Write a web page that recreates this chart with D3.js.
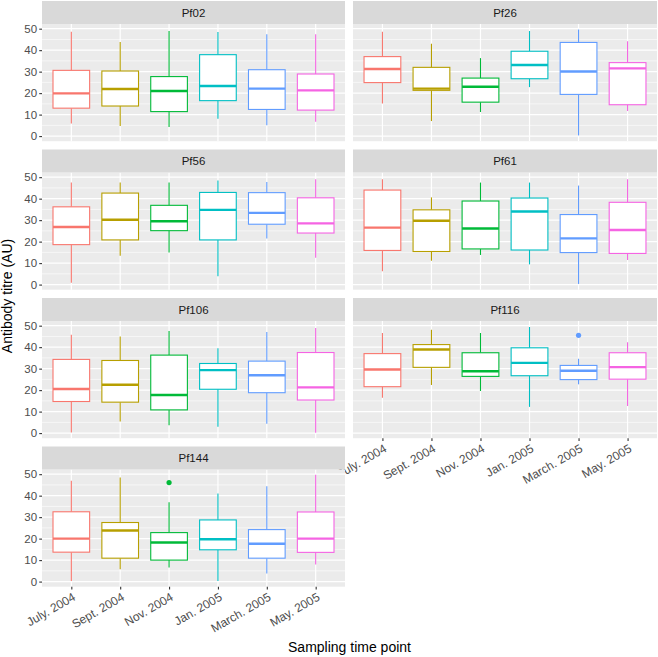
<!DOCTYPE html>
<html>
<head>
<meta charset="utf-8">
<script src="https://cdn.jsdelivr.net/npm/d3@7"></script>
<style>
  body { margin: 0; background: #fff; }
  svg { display: block; font-family: "Liberation Sans", Arial, sans-serif; }
</style>
</head>
<body>
<svg id="chart" width="658" height="657"></svg>
<script>
var times = ["July. 2004", "Sept. 2004", "Nov. 2004", "Jan. 2005", "March. 2005", "May. 2005"];
var antigens = ["Pf02", "Pf26", "Pf56", "Pf61", "Pf106", "Pf116", "Pf144"];
var colors = ["#F8766D", "#B79F00", "#00BA38", "#00BFC4", "#619CFF", "#F564E3"];
var yTicks = [0, 10, 20, 30, 40, 50];

// per time point: [lower whisker, Q1, median, Q3, upper whisker]
var pf02 = [[5.9, 13.0, 19.9, 30.6, 48.6], [4.7, 14.0, 21.9, 30.3, 43.8], [4.2, 11.4, 21.0, 27.7, 48.9],
            [8.1, 16.5, 23.3, 37.9, 48.4], [5.1, 12.4, 22.1, 30.9, 47.4], [6.7, 12.1, 21.3, 28.9, 47.4]];
var pf26 = [[15.2, 24.9, 31.2, 37.0, 48.6], [7.0, 21.3, 22.1, 32.0, 43.0], [11.2, 15.8, 23.0, 27.0, 36.3],
            [22.8, 26.7, 33.1, 39.5, 48.9], [0.3, 19.4, 30.1, 43.6, 49.6], [11.7, 14.6, 31.5, 34.2, 44.1]];
var pf56 = [[0.8, 18.6, 26.8, 36.2, 47.5], [13.4, 20.8, 30.2, 42.6, 47.5], [14.9, 25.1, 29.5, 36.9, 47.5],
            [3.9, 20.8, 34.8, 42.9, 48.4], [21.4, 28.1, 33.4, 42.8, 47.7], [12.5, 24.0, 28.5, 40.4, 49.0]];
var pf61 = [[6.2, 15.9, 26.5, 44.0, 49.0], [11.1, 15.4, 29.7, 34.8, 40.6], [13.8, 16.6, 26.1, 38.9, 47.5],
            [9.4, 16.1, 34.0, 40.3, 47.5], [0.3, 14.9, 21.5, 32.6, 46.1], [11.5, 14.5, 25.4, 38.3, 49.0]];
var pf106 = [[0.3, 14.7, 20.5, 34.3, 45.8], [5.4, 14.4, 22.5, 33.8, 45.0], [3.7, 10.8, 17.7, 36.3, 47.5],
             [2.9, 20.4, 29.3, 32.4, 39.5], [4.3, 18.8, 26.9, 33.5, 47.1], [0.1, 15.4, 21.3, 37.5, 48.9]];
var pf116 = [[16.5, 21.6, 29.6, 37.0, 46.6], [22.4, 30.6, 38.9, 41.2, 48.1], [19.6, 26.4, 28.8, 37.4, 46.6],
             [12.2, 26.7, 32.7, 39.7, 49.4], [22.7, 24.9, 29.0, 31.5, 34.6], [12.6, 25.1, 30.7, 37.4, 42.3]];
var pf144 = [[0.3, 13.7, 20.0, 32.5, 46.9], [5.8, 10.9, 23.8, 27.5, 48.4], [6.5, 10.0, 18.2, 22.8, 36.9],
             [0.3, 14.8, 19.7, 28.7, 41.0], [3.8, 10.9, 17.6, 24.2, 44.4], [8.0, 13.6, 20.0, 32.4, 49.7]];
// [antigen, time index, value]
var outliers = [["Pf116", 4, 45.5], ["Pf144", 2, 46.1]];

var stats = { Pf02: pf02, Pf26: pf26, Pf56: pf56, Pf61: pf61, Pf106: pf106, Pf116: pf116, Pf144: pf144 };

var svg = d3.select("#chart");
svg.append("rect").attr("width", 658).attr("height", 657).attr("fill", "#fff");

var cols = [[42, 345], [353, 657]];
var stripH = 23, panelH = 117.2, rowStep = 148.5, firstTop = 1;

// shared y domain with ggplot's 5% expansion
var allVals = [];
antigens.forEach(function(a) { stats[a].forEach(function(s) { allVals = allVals.concat(s); }); });
outliers.forEach(function(o) { allVals.push(o[2]); });
var lo = d3.min(allVals), hi = d3.max(allVals), pad = (hi - lo) * 0.05;

antigens.forEach(function(name, i) {
    var col = i % 2, row = Math.floor(i / 2);
    var x0 = cols[col][0], x1 = cols[col][1];
    var stripTop = firstTop + row * rowStep;
    var top = stripTop + stripH, bottom = top + panelH;

    var x = d3.scalePoint().domain(times).range([x0, x1]).padding(0.6);
    var y = d3.scaleLinear().domain([lo - pad, hi + pad]).range([bottom, top]);

    var g = svg.append("g");
    g.append("rect").attr("x", x0).attr("y", top).attr("width", x1 - x0).attr("height", panelH).attr("fill", "#EBEBEB");

    // minor grid
    d3.range(5, 50, 10).forEach(function(v) {
        g.append("line").attr("x1", x0).attr("x2", x1).attr("y1", y(v)).attr("y2", y(v))
            .attr("stroke", "#fff").attr("stroke-width", 0.6);
    });
    yTicks.forEach(function(v) {
        g.append("line").attr("x1", x0).attr("x2", x1).attr("y1", y(v)).attr("y2", y(v))
            .attr("stroke", "#fff").attr("stroke-width", 1.2);
    });
    times.forEach(function(t) {
        g.append("line").attr("x1", x(t)).attr("x2", x(t)).attr("y1", top).attr("y2", bottom)
            .attr("stroke", "#fff").attr("stroke-width", 1.2);
    });

    // strip
    g.append("rect").attr("x", x0).attr("y", stripTop).attr("width", x1 - x0).attr("height", stripH).attr("fill", "#D9D9D9");
    g.append("text").attr("x", (x0 + x1) / 2).attr("y", stripTop + stripH / 2).attr("dy", "0.36em")
        .attr("text-anchor", "middle").attr("font-size", 11.5).attr("fill", "#1A1A1A").text(name);

    // boxes
    var bw = x.step() * 0.75;
    stats[name].forEach(function(s, j) {
        var cx = x(times[j]), c = colors[j];
        g.append("line").attr("x1", cx).attr("x2", cx).attr("y1", y(s[4])).attr("y2", y(s[3]))
            .attr("stroke", c).attr("stroke-width", 1.1);
        g.append("line").attr("x1", cx).attr("x2", cx).attr("y1", y(s[1])).attr("y2", y(s[0]))
            .attr("stroke", c).attr("stroke-width", 1.1);
        g.append("rect").attr("x", cx - bw / 2).attr("y", y(s[3])).attr("width", bw).attr("height", y(s[1]) - y(s[3]))
            .attr("fill", "#fff").attr("stroke", c).attr("stroke-width", 1.1);
        g.append("line").attr("x1", cx - bw / 2).attr("x2", cx + bw / 2).attr("y1", y(s[2])).attr("y2", y(s[2]))
            .attr("stroke", c).attr("stroke-width", 2.4);
    });
    outliers.filter(function(o) { return o[0] == name; }).forEach(function(o) {
        g.append("circle").attr("cx", x(times[o[1]])).attr("cy", y(o[2])).attr("r", 2.6).attr("fill", colors[o[1]]);
    });

    // y axis on left column only
    if (col == 0) {
        var ya = g.append("g").attr("transform", "translate(" + x0 + ",0)")
            .call(d3.axisLeft(y).tickValues(yTicks).tickSize(2.75).tickPadding(2.2));
        ya.select(".domain").remove();
        ya.selectAll("line").attr("stroke", "#333333").attr("stroke-width", 1.1);
        ya.selectAll("text").attr("fill", "#4D4D4D").attr("font-size", 11.5).attr("font-family", "Liberation Sans, Arial, sans-serif");
    }

    // x axis on bottom panel of each column
    if (i == antigens.length - 1 || i == antigens.length - 2) {
        var xa = g.append("g").attr("transform", "translate(0," + bottom + ")")
            .call(d3.axisBottom(x).tickSize(2.75).tickPadding(2.2));
        xa.select(".domain").remove();
        xa.selectAll("line").attr("stroke", "#333333").attr("stroke-width", 1.1);
        xa.selectAll("text")
            .attr("fill", "#4D4D4D").attr("font-size", 12).attr("font-family", "Liberation Sans, Arial, sans-serif")
            .attr("text-anchor", "end").attr("dy", "0.75em").attr("y", 5)
            .attr("transform", "rotate(-30 0 5)");
    }
});

svg.append("text").attr("transform", "translate(12,296) rotate(-90)")
    .attr("text-anchor", "middle").attr("font-size", 14).attr("fill", "#000").text("Antibody titre (AU)");
svg.append("text").attr("x", 349.5).attr("y", 652)
    .attr("text-anchor", "middle").attr("font-size", 14).attr("fill", "#000").text("Sampling time point");
</script>
</body>
</html>
